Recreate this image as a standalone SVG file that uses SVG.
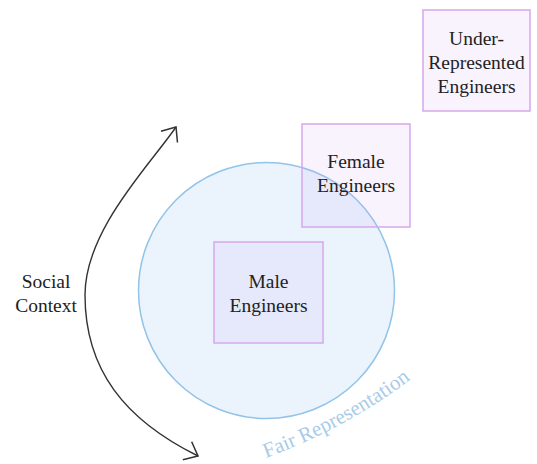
<svg xmlns="http://www.w3.org/2000/svg" width="537" height="464" viewBox="0 0 537 464" font-family="'Liberation Serif', 'Times New Roman', serif">
<style>
.box{fill:#c9a6ef;fill-opacity:0.13;stroke:#d6a8ec;stroke-width:1.5}
.arc{fill:none;stroke:#333;stroke-width:1.4}
</style>
<defs>
<marker id="chev" viewBox="-14 -12 16 24" markerWidth="16" markerHeight="24" refX="0" refY="0" orient="auto-start-reverse" markerUnits="userSpaceOnUse">
<path d="M -12 -10 L 0 0 L -12 10" fill="none" stroke="#333" stroke-width="1.5"/>
</marker>
<path id="fairPath" d="M 266 458 Q 355 425 425 368"/>
</defs>
<rect width="537" height="464" fill="#ffffff"/>
<g id="fair-representation">
<circle cx="266.5" cy="290.5" r="128" fill="#ebf4fd" stroke="#92c3e8" stroke-width="1.5"/>
<text font-family="'Liberation Serif', 'Times New Roman', serif" font-size="21" fill="#a9cbe9"><textPath href="#fairPath">Fair Representation</textPath></text>
</g>
<g id="connectors">
<path class="arc" d="M 176 127 C 150 165, 85 230, 85 295 C 85 370, 125 420, 198 456" marker-start="url(#chev)" marker-end="url(#chev)"/>
</g>
<g font-family="'Liberation Serif', 'Times New Roman', serif" font-size="19.5" fill="#222" text-anchor="middle">
<g id="social-context">
<text x="46" y="288">Social</text>
<text x="46" y="312">Context</text>
</g>
<g id="male-engineers">
<rect class="box" x="214" y="242" width="109" height="101"/>
<text x="268.5" y="288">Male</text>
<text x="268.5" y="312">Engineers</text>
</g>
<g id="female-engineers">
<rect class="box" x="302" y="124" width="108" height="103"/>
<text x="356" y="168">Female</text>
<text x="356" y="192">Engineers</text>
</g>
<g id="under-represented-engineers">
<rect class="box" x="423" y="10" width="107" height="101"/>
<text x="476.5" y="45">Under-</text>
<text x="476.5" y="69">Represented</text>
<text x="476.5" y="93">Engineers</text>
</g>
</g>
</svg>
